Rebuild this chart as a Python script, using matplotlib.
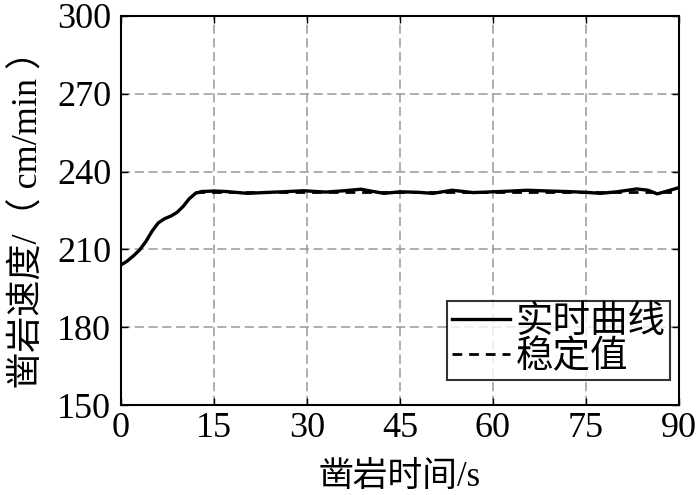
import matplotlib
matplotlib.use('Agg')
import matplotlib.pyplot as plt

time_s = [0, 1, 2, 3, 4, 5, 6, 7, 8, 9, 10, 11, 12, 13, 15, 17, 20.4, 23, 26,
          29.5, 33, 36, 38.7, 40.5, 42.4, 45, 48, 50.3, 53.4, 56.8, 60, 63,
          65.5, 69, 72, 75, 77.3, 80, 83.2, 85, 86.5, 88, 90]
speed = [204.0, 205.5, 207.5, 209.8, 213.0, 217.0, 220.2, 221.8, 222.8, 224.2,
         226.5, 229.5, 231.6, 232.3, 232.5, 232.3, 231.6, 231.9, 232.2,
         232.6, 232.1, 232.6, 233.2, 232.4, 231.6, 232.2, 232.0, 231.6, 232.8,
         231.9, 232.2, 232.5, 232.8, 232.5, 232.3, 232.0, 231.6, 232.2, 233.3,
         232.8, 231.4, 232.4, 233.8]

# steady value
steady_t = [12, 90]
steady_v = [232.0, 232.0]

xticks = [0, 15, 30, 45, 60, 75, 90]
yticks = [150, 180, 210, 240, 270, 300]

plt.rcParams['font.family'] = ['Liberation Serif', 'Noto Sans CJK SC']

fig = plt.figure(figsize=(7, 4.95), dpi=100)
ax = fig.add_axes([0.1729, 0.1818, 0.797, 0.786])

ax.plot(time_s, speed, color='black', lw=2.4, label='实时曲线', zorder=3)
ax.plot(steady_t, steady_v, color='black', lw=2.0, ls=(0, (3.5, 2.5)), label='稳定值', zorder=2)

ax.set_xlim(0, 90)
ax.set_ylim(150, 300)
ax.set_xticks(xticks)
ax.set_yticks(yticks)
ax.tick_params(direction='in', length=5, width=1, labelsize=26,
               top=True, right=True)
ax.tick_params(axis='x', pad=5)
ax.tick_params(axis='y', pad=7)
ax.grid(True, color='#999999', ls=(0, (6, 3)), lw=1.1)
for s in ax.spines.values():
    s.set_linewidth(1.5)

ax.set_xlabel('凿岩时间/s', fontsize=25)
ax.xaxis.set_label_coords(0.5, -0.145)
ax.set_ylabel('凿岩速度/（ cm/min ）', fontsize=26)
ax.yaxis.set_label_coords(-0.135, 0.5)

leg = ax.legend(loc='lower right', bbox_to_anchor=(0.984, 0.064), fontsize=27,
                frameon=True, fancybox=False, edgecolor='black',
                handlelength=1.55, handletextpad=0.15, borderpad=0.12,
                labelspacing=0.0, borderaxespad=0)
leg.get_frame().set_linewidth(1.5)

fig.savefig('out.png', dpi=100)
